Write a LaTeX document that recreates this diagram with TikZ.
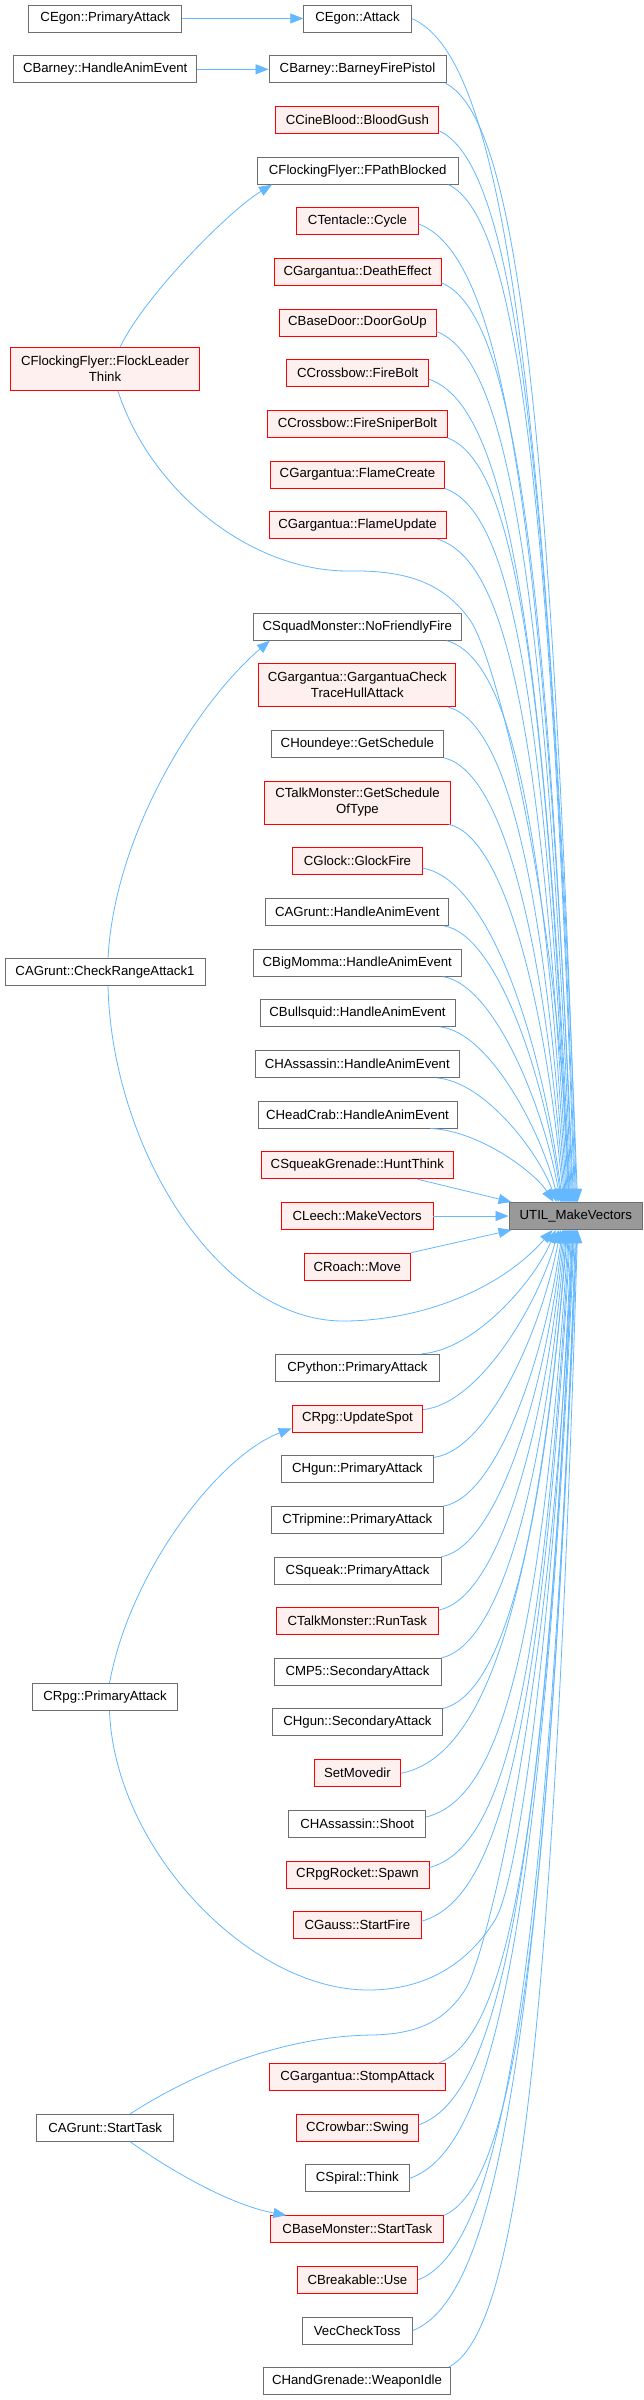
\documentclass[tikz,border=0pt]{standalone}
\usepackage{fontspec}
\setmainfont{Liberation Sans}
\usetikzlibrary{arrows.meta,calc}
\definecolor{edgecol}{HTML}{63B8FF}
\definecolor{grayborder}{HTML}{6E6E6E}
\definecolor{redfill}{HTML}{FFF0F0}
\definecolor{rootfill}{HTML}{999999}
\tikzset{
 fnbox/.style={draw, line width=0.9pt, inner sep=0pt, minimum height=27pt, font=\fontsize{13.2}{16}\selectfont, align=center, text=black},
 gnode/.style={fnbox, draw=grayborder, fill=white},
 rnode/.style={fnbox, draw=red, fill=redfill},
 rootnode/.style={fnbox, draw=grayborder, fill=rootfill},
 callline/.style={draw=edgecol, line width=0.8pt, -{Triangle[length=13pt,width=10pt]}}
}
\newcommand\callarc[2]{%
 \draw[callline] let \p1=(#1), \p2=(#2), \n1={\x2-\x1}, \n2={abs(\y2-\y1)},
   \n3={min(1,max(0,(\n2-150)/450))}, \n4={\y2-\y1} in
 (\p1) .. controls ({\x1+(0.4+0.1*\n3)*\n1}, {\y1+0.03*\n4})
 and ({\x2-(0.15+0.05*\n3)*\n1}, {\y1+(0.6-0.35*\n3)*\n4}) .. (\p2);}
\begin{document}
\begin{tikzpicture}[x=1pt,y=-1pt]
\fill[white] (0,0) rectangle (643,2400);
\useasboundingbox (0,0) rectangle (643,2400);
% nodes
\node[gnode, minimum width=153pt] (egonPA) at (105.4,18.5) {CEgon::PrimaryAttack};
\node[gnode, minimum width=107.5pt] (egonA) at (357.5,18.5) {CEgon::Attack};
\node[gnode, minimum width=183pt] (barneyHAE) at (105.2,69.3) {CBarney::HandleAnimEvent};
\node[gnode, minimum width=177pt] (barneyBFP) at (357.5,69.3) {CBarney::BarneyFirePistol};
\node[rnode, minimum width=163pt] (cineBlood) at (357.4,120) {CCineBlood::BloodGush};
\node[gnode, minimum width=200.5pt] (ffPB) at (357.7,170.7) {CFlockingFlyer::FPathBlocked};
\node[rnode, minimum width=121.5pt] (tentacle) at (357.5,221) {CTentacle::Cycle};
\node[rnode, minimum width=167pt] (gargDE) at (357.5,271.8) {CGargantua::DeathEffect};
\node[rnode, minimum width=157pt] (doorUp) at (357.5,322.5) {CBaseDoor::DoorGoUp};
\node[rnode, minimum width=141.7pt] (fireBolt) at (357.7,373.2) {CCrossbow::FireBolt};
\node[rnode, minimum width=189.3pt, minimum height=43pt] (ffFLT) at (105,369.2) {CFlockingFlyer::FlockLeader\\Think};
\node[rnode, minimum width=179.3pt] (sniper) at (357.5,424) {CCrossbow::FireSniperBolt};
\node[rnode, minimum width=173.5pt] (flameC) at (357.5,474.5) {CGargantua::FlameCreate};
\node[rnode, minimum width=177pt] (flameU) at (357.5,525.2) {CGargantua::FlameUpdate};
\node[gnode, minimum width=208pt] (noFF) at (357.3,626.7) {CSquadMonster::NoFriendlyFire};
\node[rnode, minimum width=197pt, minimum height=43pt] (gargCT) at (357.3,685.2) {CGargantua::GargantuaCheck\\TraceHullAttack};
\node[gnode, minimum width=172.8pt] (hound) at (357.4,744) {CHoundeye::GetSchedule};
\node[rnode, minimum width=186pt, minimum height=43pt] (talkGS) at (357.5,802.5) {CTalkMonster::GetSchedule\\OfType};
\node[rnode, minimum width=129.7pt] (glock) at (357.5,861.2) {CGlock::GlockFire};
\node[gnode, minimum width=183pt] (agruntHAE) at (357.3,912) {CAGrunt::HandleAnimEvent};
\node[gnode, minimum width=208pt] (bigMomma) at (357.3,962.7) {CBigMomma::HandleAnimEvent};
\node[gnode, minimum width=200pt] (agruntCRA) at (105,972) {CAGrunt::CheckRangeAttack1};
\node[gnode, minimum width=195pt] (bullsquid) at (357.5,1013) {CBullsquid::HandleAnimEvent};
\node[gnode, minimum width=204.5pt] (hassHAE) at (357.3,1064) {CHAssassin::HandleAnimEvent};
\node[gnode, minimum width=199pt] (headcrab) at (357.5,1114.5) {CHeadCrab::HandleAnimEvent};
\node[rnode, minimum width=191.3pt] (squeakHT) at (357.3,1165.2) {CSqueakGrenade::HuntThink};
\node[rootnode, minimum width=133.6pt] (util) at (575.8,1216) {UTIL\_MakeVectors};
\node[rnode, minimum width=151.6pt] (leech) at (357.2,1216) {CLeech::MakeVectors};
\node[rnode, minimum width=106.3pt] (roach) at (357.2,1266.7) {CRoach::Move};
\node[gnode, minimum width=163.7pt] (python) at (357.5,1367.7) {CPython::PrimaryAttack};
\node[rnode, minimum width=130.7pt] (rpgUS) at (357.4,1418.5) {CRpg::UpdateSpot};
\node[gnode, minimum width=152.5pt] (hgunPA) at (357.3,1469.3) {CHgun::PrimaryAttack};
\node[gnode, minimum width=171.5pt] (tripPA) at (357.3,1520) {CTripmine::PrimaryAttack};
\node[gnode, minimum width=167pt] (squeakPA) at (357.5,1570.7) {CSqueak::PrimaryAttack};
\node[rnode, minimum width=162pt] (talkRT) at (357.4,1621) {CTalkMonster::RunTask};
\node[gnode, minimum width=167pt] (mp5SA) at (357.5,1671.8) {CMP5::SecondaryAttack};
\node[gnode, minimum width=145.5pt] (rpgPA) at (105,1697.2) {CRpg::PrimaryAttack};
\node[gnode, minimum width=170.3pt] (hgunSA) at (357.5,1722.4) {CHgun::SecondaryAttack};
\node[rnode, minimum width=86.8pt] (setMovedir) at (357.4,1773.2) {SetMovedir};
\node[gnode, minimum width=136.8pt] (hassShoot) at (357.2,1824) {CHAssassin::Shoot};
\node[rnode, minimum width=143pt] (rpgRocket) at (357.5,1874.5) {CRpgRocket::Spawn};
\node[rnode, minimum width=127.2pt] (gauss) at (357.4,1925.2) {CGauss::StartFire};
\node[rnode, minimum width=176pt] (gargSA) at (357.5,2077.2) {CGargantua::StompAttack};
\node[gnode, minimum width=136.8pt] (agruntST) at (105.2,2127.8) {CAGrunt::StartTask};
\node[rnode, minimum width=121.5pt] (crowbar) at (357.5,2127.8) {CCrowbar::Swing};
\node[gnode, minimum width=103.2pt] (spiral) at (357.4,2178.4) {CSpiral::Think};
\node[rnode, minimum width=173pt] (bmST) at (357.3,2229.2) {CBaseMonster::StartTask};
\node[rnode, minimum width=120.8pt] (breakable) at (357.4,2279.8) {CBreakable::Use};
\node[gnode, minimum width=110.4pt] (vecCT) at (357.2,2330.5) {VecCheckToss};
\node[gnode, minimum width=186.8pt] (hgWI) at (357,2381) {CHandGrenade::WeaponIdle};
% left-column edges
\draw[callline] (egonPA.east) -- (egonA.west);
\draw[callline] (barneyHAE.east) -- (barneyBFP.west);
\draw[callline] ([xshift=15pt]ffFLT.north) .. controls (145,295) and (230,210) .. ([xshift=15pt]ffPB.south west);
\draw[callline] ([xshift=13pt]ffFLT.south) .. controls (150,490) and (250,572) .. (350,571)
  .. controls (410,570) and (445,585) .. (470,620) .. controls (495,655) and (558,900) .. ([xshift=61pt]util.north west);
\draw[callline] ([xshift=3pt]agruntCRA.north) .. controls (115,830) and (200,700) .. ([xshift=17pt]noFF.south west);
\draw[callline] ([xshift=3pt]agruntCRA.south) .. controls (112,1150) and (220,1321) .. (343,1321)
  .. controls (420,1321) and (500,1290) .. ([xshift=44pt]util.south west);
\draw[callline] ([xshift=4.5pt]rpgPA.north) .. controls (130,1570) and (220,1455) .. ([yshift=4pt]rpgUS.south west);
\draw[callline] ([xshift=4.5pt]rpgPA.south) .. controls (115,1850) and (250,1990) .. (368,1990)
  .. controls (430,1990) and (470,1960) .. (495,1920) .. controls (520,1880) and (556,1600) .. ([xshift=63pt]util.south west);
\draw[callline] ([xshift=25pt]agruntST.north) .. controls (190,2075) and (280,2036) .. (372,2035)
  .. controls (420,2034) and (445,2020) .. (465,1990) .. controls (485,1960) and (552,1700) .. ([xshift=64pt]util.south west);
\draw[callline] ([xshift=25pt]agruntST.south) .. controls (170,2170) and (230,2205) .. ([xshift=16pt]bmST.north west);
% edges from above
\callarc{egonA.east}{[xshift=69pt]util.north west}
\callarc{[xshift=-1pt]barneyBFP.south east}{[xshift=68pt]util.north west}
\callarc{[yshift=3pt]cineBlood.south east}{[xshift=67pt]util.north west}
\callarc{[xshift=-10pt]ffPB.south east}{[xshift=66pt]util.north west}
\callarc{[yshift=-3pt]tentacle.east}{[xshift=65pt]util.north west}
\callarc{[yshift=3pt]gargDE.south east}{[xshift=64pt]util.north west}
\callarc{[yshift=5pt]doorUp.south east}{[xshift=63pt]util.north west}
\callarc{[yshift=-6pt]fireBolt.east}{[xshift=62pt]util.north west}
\callarc{sniper.south east}{[xshift=60.5pt]util.north west}
\callarc{flameC.south east}{[xshift=60pt]util.north west}
\callarc{[xshift=-9pt]flameU.south east}{[xshift=59pt]util.north west}
\callarc{[xshift=-15pt]noFF.south east}{[xshift=58pt]util.north west}
\callarc{[xshift=-8pt]gargCT.south east}{[xshift=57pt]util.north west}
\callarc{hound.south east}{[xshift=56pt]util.north west}
\callarc{[xshift=-2pt]talkGS.south east}{[xshift=55pt]util.north west}
\callarc{[yshift=-7pt]glock.east}{[xshift=54pt]util.north west}
\callarc{[xshift=-5pt]agruntHAE.south east}{[xshift=53pt]util.north west}
\callarc{[xshift=-19pt]bigMomma.south east}{[xshift=52pt]util.north west}
\callarc{[xshift=-15pt]bullsquid.south east}{[xshift=50pt]util.north west}
\callarc{[xshift=-23pt]hassHAE.south east}{[xshift=48pt]util.north west}
\callarc{[xshift=-27pt]headcrab.south east}{[xshift=45pt]util.north west}
\draw[callline] ([xshift=-36pt]squeakHT.south east) -- ([xshift=3pt]util.north west);
\draw[callline] (leech.east) -- (util.west);
% edges from below
\draw[callline] (roach.north east) -- ([xshift=3pt]util.south west);
\callarc{[xshift=-18pt]python.north east}{[xshift=47pt]util.south west}
\callarc{[yshift=-5pt]rpgUS.north east}{[xshift=50pt]util.south west}
\callarc{[yshift=-2pt]hgunPA.north east}{[xshift=52pt]util.south west}
\callarc{tripPA.north east}{[xshift=54pt]util.south west}
\callarc{squeakPA.north east}{[xshift=55pt]util.south west}
\callarc{[yshift=-3pt]talkRT.north east}{[xshift=56pt]util.south west}
\callarc{mp5SA.north east}{[xshift=57pt]util.south west}
\callarc{hgunSA.north east}{[xshift=58pt]util.south west}
\callarc{setMovedir.east}{[xshift=59pt]util.south west}
\callarc{[yshift=-7pt]hassShoot.north east}{[xshift=60pt]util.south west}
\callarc{[yshift=-7pt]rpgRocket.north east}{[xshift=61pt]util.south west}
\callarc{[yshift=4pt]gauss.east}{[xshift=62pt]util.south west}
\callarc{[xshift=-8pt]gargSA.north east}{[xshift=64.5pt]util.south west}
\callarc{[yshift=3pt]crowbar.east}{[xshift=65pt]util.south west}
\callarc{spiral.east}{[xshift=66pt]util.south west}
\callarc{bmST.north east}{[xshift=67pt]util.south west}
\callarc{breakable.east}{[xshift=68pt]util.south west}
\callarc{vecCT.east}{[xshift=68.5pt]util.south west}
\callarc{[xshift=-2pt]hgWI.north east}{[xshift=69pt]util.south west}
\end{tikzpicture}
\end{document}
